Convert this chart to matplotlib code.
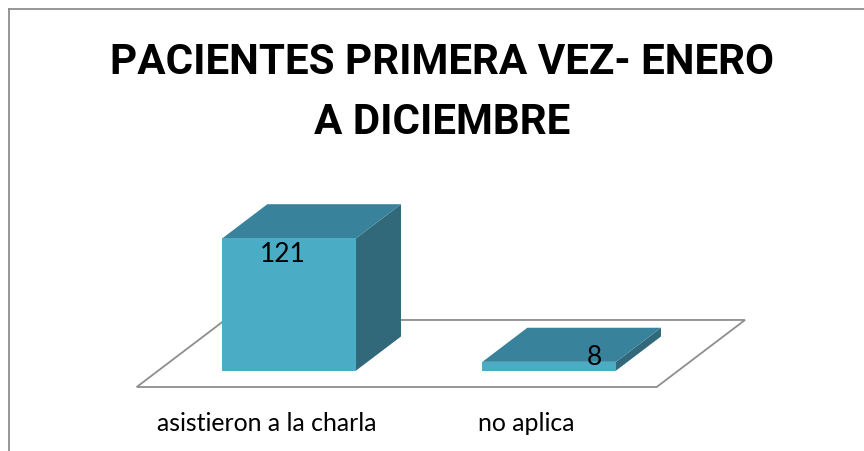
import matplotlib
matplotlib.use("Agg")
import matplotlib.pyplot as plt
from matplotlib.patches import Polygon
from matplotlib.lines import Line2D

categories = ["asistieron a la charla", "no aplica"]
values = [121, 8]
title_lines = ["PACIENTES PRIMERA VEZ- ENERO", "A DICIEMBRE"]

W, H = 864, 452
FRONT, TOP, SIDE = "#4BACC6", "#38839B", "#31697B"
GRID = "#8E8E8E"
plt.rcParams["font.family"] = ["Lato", "DejaVu Sans"]

fig = plt.figure(figsize=(W / 100, H / 100), dpi=100, facecolor="white")
# front plane of the plot: 136.7..656.7 px across, baseline at 388 px
ax = fig.add_axes([136.7 / W, 1 - 388.0 / H, 520 / W, 164 / H])
ax.set_xlim(-0.5, 1.5)
ax.set_ylim(0, 150)
ax.patch.set_visible(False)
for s in ax.spines.values():
    s.set_visible(False)
ax.yaxis.set_visible(False)
ax.set_xticks(range(len(categories)), categories)
ax.tick_params(axis="x", length=0, pad=17.5, labelsize=17.9, labelcolor="black")

# 3D projection in data units
depth_x, depth_y = 0.3396, 61.3
bar_w = 0.514
bar_dx, bar_dy = 0.173, 31.2
front_shift_x, front_shift_y = 0.0865, 15.0

# floor
ax.add_patch(Polygon([(-0.5, 0), (1.5, 0), (1.5 + depth_x, depth_y), (-0.5 + depth_x, depth_y)],
                     closed=True, fc="white", ec=GRID, lw=1.3, clip_on=False, zorder=1))

for i, v in enumerate(values):
    x0 = i - bar_w / 2 + front_shift_x
    x1 = x0 + bar_w
    y0 = front_shift_y
    y1 = y0 + v
    ax.add_patch(Polygon([(x1, y0), (x1 + bar_dx, y0 + bar_dy), (x1 + bar_dx, y1 + bar_dy), (x1, y1)],
                         closed=True, fc=SIDE, ec="none", clip_on=False, zorder=2))
    ax.add_patch(Polygon([(x0, y1), (x1, y1), (x1 + bar_dx, y1 + bar_dy), (x0 + bar_dx, y1 + bar_dy)],
                         closed=True, fc=TOP, ec="none", clip_on=False, zorder=2))
    ax.bar(x0, v, width=bar_w, bottom=y0, align="edge", color=FRONT, zorder=3, clip_on=False)

# value labels (px offsets from the bar's top-front-centre)
label_offsets = [(-6, -15), (45.5, 5)]
for i, (v, off) in enumerate(zip(values, label_offsets)):
    ax.annotate(str(v), (i + front_shift_x, front_shift_y + v), xytext=(off[0] * 0.72, off[1] * 0.72),
                textcoords="offset points", ha="center", va="center",
                fontsize=19, color="black", zorder=5, annotation_clip=False)

# title
for line, y in zip(title_lines, (62, 122)):
    fig.text(442.5 / W, 1 - y / H, line, ha="center", va="center",
             fontsize=30.3, fontweight="bold", color="black", family=["Roboto", "DejaVu Sans"])

# chart frame: only top and left edges are visible in the crop
fig.add_artist(Line2D([8.5 / W, 8.5 / W], [0, 1 - 10 / H], color=GRID, lw=1.3))
fig.add_artist(Line2D([8.5 / W, 1], [1 - 10 / H, 1 - 10 / H], color=GRID, lw=1.3))

fig.savefig("out.png", dpi=100)
